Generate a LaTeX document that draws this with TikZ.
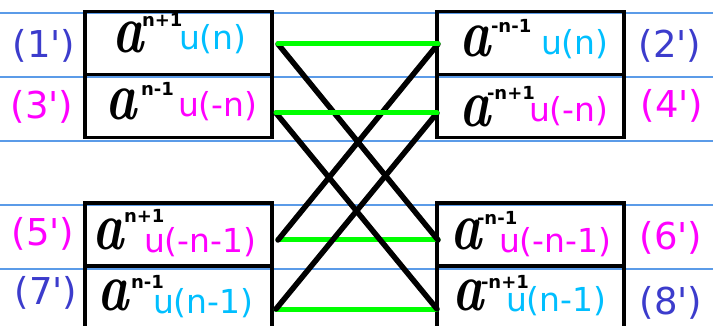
\documentclass[tikz,border=0pt]{standalone}
\usepackage{fontspec}
\setmainfont{DejaVu Sans}
\newfontfamily\handfont{Latin Modern Roman}
\usepackage{xcolor}
\usetikzlibrary{positioning}
\definecolor{rulingblue}{HTML}{5B9BE8}
\definecolor{labelblue}{HTML}{3C3CCC}
\definecolor{stepmagenta}{HTML}{FF00FF}
\definecolor{stepcyan}{HTML}{00BFFF}
\definecolor{pairgreen}{HTML}{00FF00}

% handwritten-looking base letter
\newcommand{\biga}{\scalebox{0.78}[1]{\fontsize{68}{68}\handfont\bfseries\itshape a}}

\begin{document}
\begin{tikzpicture}[
    x=1pt, y=-1pt,
    every node/.style={inner sep=0pt, outer sep=0pt},
    cell/.style={
      rectangle, draw, line width=3.6pt,
      minimum width=187pt, minimum height=63pt
    },
    base/.style={anchor=base west},
    expo/.style={anchor=base west, font=\fontsize{18}{18}\selectfont\bfseries},
    stepfn/.style={anchor=base west, font=\fontsize{33}{33}\selectfont},
    tag/.style={anchor=base, font=\fontsize{37}{37}\selectfont},
    ruling/.style={rulingblue, line width=1.2pt},
    pairline/.style={pairgreen, line width=5pt, line cap=round},
    crossline/.style={black, line width=5.5pt, line cap=round},
  ]
  \clip (0,0) rectangle (713,326);
  \fill[white] (0,0) rectangle (713,326);

  % --- Ruled paper ---
  \foreach \yy in {13,77,141,205,269}
    \draw[ruling] (0,\yy) -- (713,\yy);

  % --- Boxes ---
  \node[cell] (c1) at (178.5,43) {};
  \node[cell] (c3) at (178.5,106) {};
  \node[cell] (c5) at (178.5,234.5) {};
  \node[cell] (c7) at (178.5,297.5) {};
  \node[cell] (c2) at (530.5,43) {};
  \node[cell] (c4) at (530.5,106) {};
  \node[cell] (c6) at (530.5,234.5) {};
  \node[cell] (c8) at (530.5,297.5) {};

  % --- Left column ---
  \node[base] (a1) at (112,53) {\biga};
  \node[expo] (e1) at (142,27) {n+1};
  \node[stepfn, text=stepcyan] (u1) at (179,50) {u(n)};

  \node[base] (a3) at (105,120) {\biga};
  \node[expo] (e3) at (141,96) {n-1};
  \node[stepfn, text=stepmagenta] (u3) at (178,117) {u(-n)};

  \node[base] (a5) at (92,250) {\biga};
  \node[expo] (e5) at (124,223) {n+1};
  \node[stepfn, text=stepmagenta] (u5) at (144,252) {u(-n-1)};

  \node[base] (a7) at (97,310) {\biga};
  \node[expo] (e7) at (131,288) {n-1};
  \node[stepfn, text=stepcyan] (u7) at (153,313) {u(n-1)};

  % --- Right column ---
  \node[base] (a2) at (459,57) {\biga};
  \node[expo] (e2) at (491,33) {-n-1};
  \node[stepfn, text=stepcyan] (u2) at (541,55) {u(n)};

  \node[base] (a4) at (459,127) {\biga};
  \node[expo] (e4) at (487,100) {-n+1};
  \node[stepfn, text=stepmagenta] (u4) at (529,122) {u(-n)};

  \node[base] (a6) at (450,250) {\biga};
  \node[expo] (e6) at (477,225) {-n-1};
  \node[stepfn, text=stepmagenta] (u6) at (499,252) {u(-n-1)};

  \node[base] (a8) at (452,310) {\biga};
  \node[expo] (e8) at (481,288) {-n+1};
  \node[stepfn, text=stepcyan] (u8) at (506,312) {u(n-1)};

  % --- Labels ---
  \node[tag, text=labelblue] (t1) at (44,58) {(1\textquotesingle)};
  \node[tag, text=stepmagenta] (t3) at (42,119) {(3\textquotesingle)};
  \node[tag, text=stepmagenta] (t5) at (43,245) {(5\textquotesingle)};
  \node[tag, text=labelblue] (t7) at (46,305) {(7\textquotesingle)};
  \node[tag, text=labelblue] (t2) at (670,58) {(2\textquotesingle)};
  \node[tag, text=stepmagenta] (t4) at (672,118) {(4\textquotesingle)};
  \node[tag, text=stepmagenta] (t6) at (671,250) {(6\textquotesingle)};
  \node[tag, text=labelblue] (t8) at (671,314) {(8\textquotesingle)};

  % --- Pairing ends ---
  \coordinate (l1) at (278,44);
  \coordinate (l3) at (276,113);
  \coordinate (l5) at (278,240);
  \coordinate (l7) at (276,309);
  \coordinate (r2) at (438,44);
  \coordinate (r4) at (437,113);
  \coordinate (r6) at (438,240);
  \coordinate (r8) at (437,309);

  % --- Connectors ---
  \draw[pairline] (l5) -- (r6);
  \draw[pairline] (l7) -- (r8);
  \draw[crossline] (l1) -- (r6);
  \draw[crossline] (l3) -- (r8);
  \draw[crossline] (l5) -- (r2);
  \draw[crossline] (l7) -- (r4);
  \draw[pairline] (l1) -- (r2);
  \draw[pairline] (l3) -- (r4);
\end{tikzpicture}
\end{document}
